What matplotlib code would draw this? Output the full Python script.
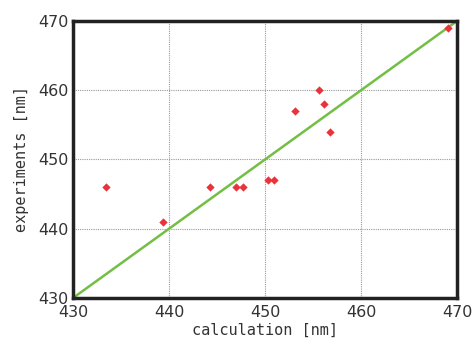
import matplotlib
matplotlib.use("Agg")
import matplotlib.pyplot as plt

calc = [433.4, 439.4, 444.3, 447.0, 447.7, 450.3, 450.9, 453.1, 455.6, 456.1, 456.8, 469.1]
expt = [446, 441, 446, 446, 446, 447, 447, 457, 460, 458, 454, 469]
ticks = [430, 440, 450, 460, 470]

fig = plt.figure(figsize=(4.73, 3.42), dpi=100)
ax = fig.add_axes([73/473, 1-298/342, 384/473, 277/342])
ax.set_xlim(430, 470)
ax.set_ylim(430, 470)
ax.plot([430, 470], [430, 470], color="#72bf44", lw=1.8, zorder=2)
ax.scatter(calc, expt, marker="D", s=18, color="#e8333b", zorder=3, linewidths=0)
ax.set_xticks(ticks)
ax.set_yticks(ticks)
ax.grid(True, color="#999999", linestyle=(0, (1, 1)), lw=0.8)
for s in ax.spines.values():
    s.set_linewidth(2.5)
    s.set_color("#222222")
ax.tick_params(length=0, labelsize=11.5, labelcolor="#333333")
ax.tick_params(axis="x", pad=5)
ax.tick_params(axis="y", pad=3)
ax.set_xlabel("calculation [nm]", family="DejaVu Sans Mono", fontsize=11, color="#333333", labelpad=2)
ax.set_ylabel("experiments [nm]", family="DejaVu Sans Mono", fontsize=11, color="#333333", labelpad=7)
fig.savefig("out.png", dpi=100)
